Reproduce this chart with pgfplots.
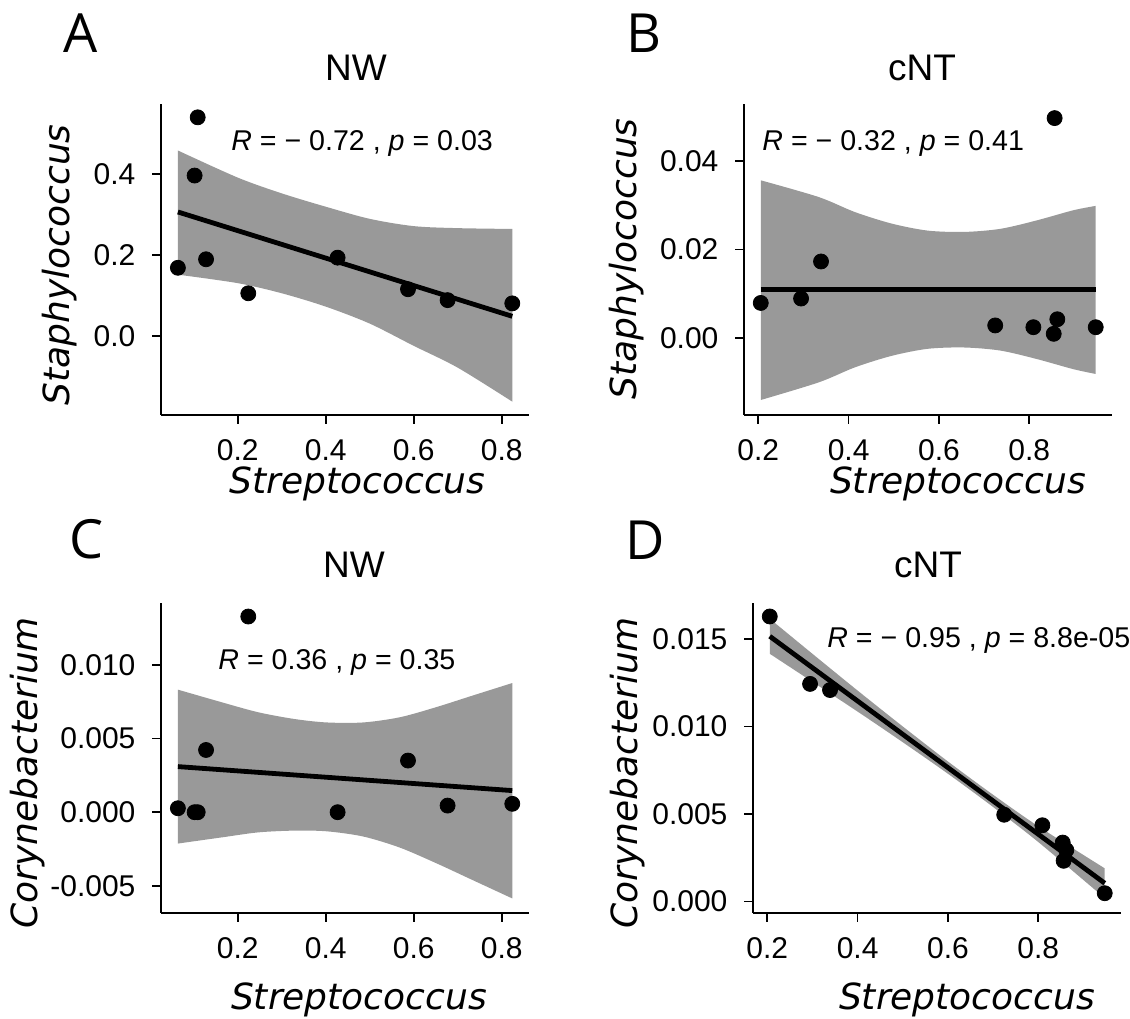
\documentclass[border=0pt]{standalone}
\usepackage{fontspec}
\setmainfont{Liberation Sans}
\newfontfamily\osans{Open Sans}
\newfontfamily\dejavu{DejaVu Sans}
\usepackage{pgfplots}
\usepgfplotslibrary{fillbetween}
\pgfplotsset{compat=1.18}
\definecolor{band}{RGB}{153,153,153}

\pgfplotsset{
  panel/.style={
    scale only axis, width=184bp,
    axis lines=left, axis line style={-, black, line width=0.85bp},
    tick align=outside, major tick length=4.3bp,
    tick style={black, line width=0.85bp},
    tick label style={font=\fontsize{15bp}{17bp}\selectfont, inner sep=0pt},
    scaled ticks=false, clip=false, enlargelimits=false,
    xtick={0.2,0.4,0.6,0.8}, xticklabels={0.2,0.4,0.6,0.8},
    xticklabel style={yshift=-7.8bp}, yticklabel style={xshift=-8.3bp},
  },
  fit/.style={black, line width=2.4bp},
  pts/.style={only marks, mark=*, mark size=3.75bp, black},
  ci/.style={draw=none, smooth},
}
\tikzset{
  note/.style={anchor=base west, inner sep=0pt, font=\fontsize{14.3bp}{16bp}\selectfont},
  letter/.style={inner sep=0pt, font=\osans\fontsize{27bp}{30bp}\selectfont},
  ttl/.style={inner sep=0pt, font=\fontsize{18.5bp}{20bp}\selectfont},
  lab/.style={inner sep=0pt, font=\dejavu\itshape\fontsize{18bp}{21bp}\selectfont},
}

\begin{document}
\begin{tikzpicture}

% A: NW, Staphylococcus vs Streptococcus
\begin{axis}[panel, at={(80.5bp,302bp)}, anchor=south west, height=155.5bp,
    xmin=0.0256, xmax=0.862, ymin=-0.196, ymax=0.573,
    ytick={0,0.2,0.4}, yticklabels={0.0,0.2,0.4}]
  \addplot[ci, name path=upA] coordinates {(0.064,0.458) (0.2,0.391) (0.3,0.352) (0.4,0.319) (0.5,0.289) (0.6,0.271) (0.7,0.266) (0.824,0.264)};
  \addplot[ci, name path=loA] coordinates {(0.064,0.151) (0.2,0.130) (0.3,0.105) (0.4,0.072) (0.5,0.030) (0.6,-0.025) (0.7,-0.079) (0.824,-0.163)};
  \addplot[band, draw=none] fill between[of=upA and loA];
  \addplot[fit] coordinates {(0.064,0.306) (0.824,0.048)};
  \addplot[pts] coordinates {(0.064,0.168) (0.109,0.540) (0.102,0.396) (0.128,0.189) (0.224,0.105) (0.427,0.193) (0.587,0.115) (0.677,0.088) (0.824,0.080)};
  \node[note] at (rel axis cs:0.190,0.852) {\textit{R} = − 0.72 , \textit{p} = 0.03};
\end{axis}

% B: cNT, Staphylococcus vs Streptococcus
\begin{axis}[panel, at={(372bp,302bp)}, anchor=south west, height=155.5bp,
    xmin=0.1685, xmax=0.983, ymin=-0.0175, ymax=0.053,
    ytick={0,0.02,0.04}, yticklabels={0.00,0.02,0.04}]
  \addplot[ci, name path=upB] coordinates {(0.2056,0.0357) (0.334,0.0319) (0.414,0.0285) (0.495,0.0259) (0.575,0.0243) (0.656,0.0240) (0.736,0.0247) (0.816,0.0266) (0.897,0.0289) (0.947,0.0299)};
  \addplot[ci, name path=loB] coordinates {(0.2056,-0.0141) (0.334,-0.0101) (0.414,-0.0067) (0.495,-0.0041) (0.575,-0.0025) (0.656,-0.0022) (0.736,-0.0029) (0.816,-0.0048) (0.897,-0.0071) (0.947,-0.0082)};
  \addplot[band, draw=none] fill between[of=upB and loB];
  \addplot[fit] coordinates {(0.2056,0.0109) (0.947,0.0109)};
  \addplot[pts] coordinates {(0.2056,0.0079) (0.2948,0.0089) (0.339,0.0173) (0.7245,0.0028) (0.809,0.0024) (0.862,0.0042) (0.854,0.0009) (0.947,0.0024) (0.856,0.0498)};
  \node[note] at (rel axis cs:0.049,0.852) {\textit{R} = − 0.32 , \textit{p} = 0.41};
\end{axis}

% C: NW, Corynebacterium vs Streptococcus
\begin{axis}[panel, at={(80.5bp,53bp)}, anchor=south west, height=155bp,
    xmin=0.0256, xmax=0.862, ymin=-0.00685, ymax=0.01422,
    ytick={-0.005,0,0.005,0.01}, yticklabels={-0.005,0.000,0.005,0.010}]
  \addplot[ci, name path=upC] coordinates {(0.064,0.00833) (0.164,0.00747) (0.247,0.00679) (0.33,0.00633) (0.403,0.0061) (0.485,0.0061) (0.568,0.00645) (0.65,0.00713) (0.733,0.00792) (0.824,0.00878)};
  \addplot[ci, name path=loC] coordinates {(0.064,-0.00213) (0.164,-0.00171) (0.247,-0.00137) (0.33,-0.00125) (0.403,-0.0013) (0.485,-0.00165) (0.568,-0.0024) (0.65,-0.00345) (0.733,-0.0046) (0.824,-0.00586)};
  \addplot[band, draw=none] fill between[of=upC and loC];
  \addplot[fit] coordinates {(0.064,0.0031) (0.824,0.00147)};
  \addplot[pts] coordinates {(0.064,0.00027) (0.102,0.0) (0.109,0.0) (0.128,0.00423) (0.224,0.0133) (0.427,0.0) (0.587,0.00351) (0.677,0.00045) (0.824,0.00057)};
  \node[note] at (rel axis cs:0.155,0.787) {\textit{R} = 0.36 , \textit{p} = 0.35};
\end{axis}

% D: cNT, Corynebacterium vs Streptococcus
\begin{axis}[panel, at={(376.5bp,53bp)}, anchor=south west, height=155bp,
    xmin=0.1685, xmax=0.983, ymin=-0.00065, ymax=0.01705,
    ytick={0,0.005,0.01,0.015}, yticklabels={0.000,0.005,0.010,0.015}]
  \addplot[ci, name path=upD] coordinates {(0.2056,0.01615) (0.3,0.01415) (0.4,0.01205) (0.5,0.0100) (0.6,0.0080) (0.7,0.0061) (0.8,0.0043) (0.947,0.0019)};
  \addplot[ci, name path=loD] coordinates {(0.2056,0.01415) (0.3,0.01255) (0.4,0.01085) (0.5,0.0091) (0.6,0.0073) (0.7,0.0054) (0.8,0.0034) (0.947,0.0002)};
  \addplot[band, draw=none] fill between[of=upD and loD];
  \addplot[fit] coordinates {(0.2056,0.01515) (0.947,0.00105)};
  \addplot[pts] coordinates {(0.2056,0.01628) (0.2948,0.01243) (0.339,0.01208) (0.7245,0.00496) (0.809,0.00436) (0.854,0.00337) (0.862,0.00294) (0.856,0.00233) (0.947,0.00048)};
  \node[note] at (rel axis cs:0.201,0.858) {\textit{R} = − 0.95 , \textit{p} = 8.8e-05};
\end{axis}

% panel letters, titles, axis titles
\node[letter] at (40.5bp,493bp) {A};
\node[letter] at (322bp,493bp) {B};
\node[letter] at (43.5bp,240bp) {C};
\node[letter] at (322.5bp,239.5bp) {D};
\node[ttl] at (178bp,475.75bp) {NW};
\node[ttl] at (461bp,475.75bp) {cNT};
\node[ttl] at (177bp,227bp) {NW};
\node[ttl] at (464bp,227bp) {cNT};
\node[lab, anchor=base] at (178.75bp,262.5bp) {Streptococcus};
\node[lab, anchor=base] at (479bp,262.5bp) {Streptococcus};
\node[lab, anchor=base] at (179.5bp,4.6bp) {Streptococcus};
\node[lab, anchor=base] at (483.5bp,4.6bp) {Streptococcus};
\node[lab, rotate=90] at (29.75bp,377bp) {Staphylococcus};
\node[lab, rotate=90] at (313.5bp,380bp) {Staphylococcus};
\node[lab, rotate=90] at (13.75bp,123bp) {Corynebacterium};
\node[lab, rotate=90] at (314bp,123bp) {Corynebacterium};

\pgfresetboundingbox
\path[use as bounding box] (0,0) rectangle (565bp,509.5bp);
\end{tikzpicture}
\end{document}
